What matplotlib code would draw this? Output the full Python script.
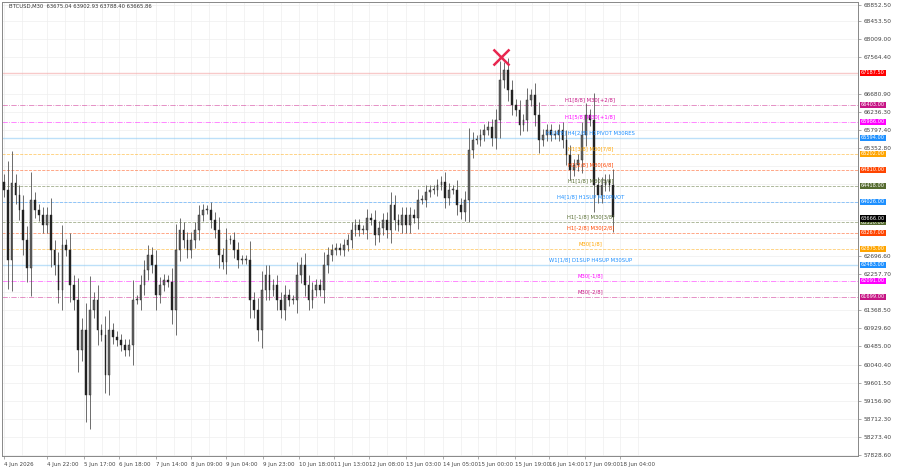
import numpy as np
import matplotlib.pyplot as plt

# closes, one per bar
closes = [64320, 62605, 64492, 64198, 63830, 63095, 62409, 64075, 63830, 63708, 63463, 63708,
          62850, 62483, 61870, 62973, 62850, 61993, 61625, 60400, 60890, 59298, 61380, 61625,
          60890, 60768, 59788, 60890, 60719, 60645, 60523, 60400, 60523, 61625, 61625, 61993,
          62360, 62728, 62483, 61748, 61993, 62115, 62066, 61380, 62850, 63340, 63095, 62850,
          63095, 63340, 63708, 63830, 63830, 63585, 63340, 62728, 62556, 63095, 63095, 62850,
          62605, 62605, 62605, 61625, 61380, 60890, 61870, 62238, 61870, 61993, 61625, 61380,
          61748, 61625, 61625, 62238, 62483, 61993, 61625, 61870, 61993,
          61870, 62483, 62728, 62850, 62899, 62850, 62973, 63095, 63340, 63463, 63340, 63340,
          63634, 63585, 63218, 63389, 63585, 63340, 63953, 63585, 63463, 63708, 63463, 63708,
          63634, 64075, 64075, 64271, 64320, 64320, 64443, 64516, 64124, 64320, 64320, 63953,
          63781, 64075, 65300, 65545, 65545, 65668, 65790, 65864, 65594, 66035, 67015, 67260,
          66770, 66403, 66280, 65913, 66035, 66525, 66648, 66158, 65545, 65668, 65790, 65668,
          65668, 65790, 65545, 65178, 64810, 64933, 65055, 65668, 66158, 66035, 64443, 64198,
          64443, 64565, 64443, 63666]

price_ticks = [57828.60, 58273.40, 58712.30, 59156.90, 59601.50, 60040.40, 60485.00, 60929.60,
               61368.50, 61813.10, 62257.70, 62696.60, 63141.20, 63580.10, 64024.70, 64469.30,
               64908.20, 65352.80, 65797.40, 66236.30, 66680.90, 67125.50, 67564.40, 68009.00,
               68453.50, 68852.50]

date_labels = ['4 Jun 2026', '4 Jun 22:00', '5 Jun 17:00', '6 Jun 18:00', '7 Jun 14:00',
               '8 Jun 09:00', '9 Jun 04:00', '9 Jun 23:00', '10 Jun 18:00', '11 Jun 13:00',
               '12 Jun 08:00', '13 Jun 03:00', '14 Jun 05:00', '15 Jun 00:00', '15 Jun 19:00',
               '16 Jun 14:00', '17 Jun 09:00', '18 Jun 04:00']
date_px = [2, 45, 82, 117, 155, 190, 225, 262, 298, 333, 368, 405, 442, 477, 514, 549, 585, 620]

# levels: price, line color, style, label, box color
lvl_prices = [67187.50, 66403.0, 65986.0, 65594.0, 65202.0, 64810.0, 64418.0, 64026.0,
              63530.0, 63267.0, 62875.0, 62483.0, 62091.0, 61699.0]
lvl_colors = ['#f4a0a0', '#c71585', '#ff00ff', '#87c8f5', '#ffa500', '#ff4500', '#556b2f',
              '#1e90ff', '#556b2f', '#ff4500', '#ffa500', '#87c8f5', '#ff00ff', '#c71585']
lvl_box = ['#ff0000', '#c71585', '#ff00ff', '#1e90ff', '#ffa500', '#ff4500', '#556b2f',
           '#1e90ff', '#556b2f', '#ff4500', '#ffa500', '#1e90ff', '#ff00ff', '#c71585']
lvl_style = ['-', '-.', '-.', '-', '--', '--', '--', '--', '--', '--', '--', '-', '-.', '-.']
lvl_text = ['', 'H1[8/8] M30[+2/8]', 'H1[5/8] M30[+1/8]', 'H1[4/8] H4[2/8] H1PIVOT M30RES',
            'H1[3/8] M30[7/8]', 'H1[2/8] M30[6/8]', 'H1[1/8] M30[5/8]', 'H4[1/8] H1SUP M30PIVOT',
            'H1[-1/8] M30[3/8]', 'H1[-2/8] M30[2/8]', 'M30[1/8]', 'W1[1/8] D1SUP H4SUP M30SUP',
            'M30[-1/8]', 'M30[-2/8]']
txt_colors = ['#ff0000', '#c71585', '#ff00ff', '#1e90ff', '#ffa500', '#ff4500', '#556b2f',
              '#1e90ff', '#556b2f', '#ff4500', '#ffa500', '#1e90ff', '#ff00ff', '#c71585']

px_per_bar = (613 - 2) / (len(closes) - 1)

def px2bar(px):
    return (px - 2) / px_per_bar

fig = plt.figure(figsize=(9, 4.74), dpi=100)
ax = fig.add_axes([0.002, 0.038, 0.951, 0.958])

opens = [closes[0] + 200] + closes[:-1]
x = np.arange(len(closes))
for i in x:
    o, c = opens[i], closes[i]
    w = abs(c - o) * 0.35 + 110
    ax.vlines(i, min(o, c) - w, max(o, c) + w, color='#555555', lw=0.6, zorder=3)
    ax.bar(i, max(abs(c - o), 15), bottom=min(o, c), width=0.45,
           color='#222222' if c < o else '#666666', edgecolor='#222222', lw=0.3, zorder=4)

for p, col, ls, t, bc, tc in zip(lvl_prices, lvl_colors, lvl_style, lvl_text, lvl_box, txt_colors):
    ax.axhline(p, color=col, ls=ls, lw=1.0 if ls == '-' else 0.6, alpha=0.55, zorder=2)
    if t:
        ax.text(px2bar(590), p + 60, t, color=tc, fontsize=3.8, ha='center', va='bottom', zorder=5)
    ax.text(1.004, p, f'{p:.2f}', transform=ax.get_yaxis_transform(), fontsize=3.6, color='white',
            va='center', ha='left', bbox=dict(boxstyle='square,pad=0.15', fc=bc, ec='none'),
            clip_on=False, zorder=6)

ax.text(1.004, closes[-1] - 40, f'{closes[-1]:.2f}', transform=ax.get_yaxis_transform(), fontsize=3.6,
        color='white', va='center', ha='left',
        bbox=dict(boxstyle='square,pad=0.15', fc='black', ec='none'), clip_on=False, zorder=7)

ax.plot(px2bar(500), 67578, marker='x', color='#e8264f', ms=11, mew=1.8, zorder=6)

# hide axis labels that sit under a level box
all_lv = lvl_prices + [closes[-1]]
shown = [v for v in price_ticks if min(abs(v - p) for p in all_lv) > 150]

ax.set_xlim(px2bar(0), px2bar(858))
ax.set_ylim(57803, 68926)
ax.yaxis.tick_right()
ax.set_yticks(shown)
ax.set_yticklabels([f'{v:.2f}' for v in shown], fontsize=4.2, color='#444444')
ax.set_xticks([px2bar(p) for p in date_px])
ax.set_xticklabels(date_labels, fontsize=4.0, color='#444444', ha='left')
ax.tick_params(length=2, width=0.5, pad=2, colors='#888888', labelcolor='#444444')
for p in date_px:
    ax.axvline(px2bar(p), color='#eeeeee', lw=0.5, zorder=0)
    ax.axvline(px2bar(p + 18), color='#eeeeee', lw=0.5, zorder=0)
for v in price_ticks:
    ax.axhline(v, color='#eeeeee', lw=0.5, zorder=0)
for s in ax.spines.values():
    s.set_color('#888888')
    s.set_linewidth(0.7)

ax.text(0.008, 0.995, 'BTCUSD,M30  63675.04 63902.93 63788.40 63665.86', transform=ax.transAxes,
        fontsize=3.8, color='#333333', va='top', ha='left')

fig.savefig('out.png', dpi=100)
